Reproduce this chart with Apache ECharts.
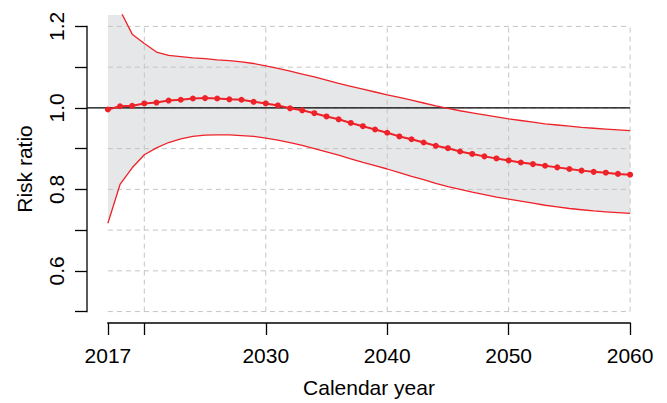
<!DOCTYPE html>
<html>
<head>
<meta charset="utf-8">
<script src="https://cdn.jsdelivr.net/npm/echarts@6/dist/echarts.min.js"></script>
<style>
html,body{margin:0;padding:0;background:#fff;}
#chart{width:667px;height:403px;}
</style>
</head>
<body>
<div id="chart"></div>
<script>
// ---- data ----
var years = [2017,2018,2019,2020,2021,2022,2023,2024,2025,2026,2027,2028,2029,2030,2031,2032,2033,2034,2035,2036,2037,2038,2039,2040,2041,2042,2043,2044,2045,2046,2047,2048,2049,2050,2051,2052,2053,2054,2055,2056,2057,2058,2059,2060];
var riskRatio = [0.996,1.004,1.005,1.011,1.013,1.018,1.020,1.023,1.024,1.023,1.021,1.020,1.015,1.011,1.006,0.999,0.994,0.987,0.979,0.972,0.963,0.955,0.947,0.939,0.930,0.923,0.915,0.907,0.901,0.893,0.887,0.881,0.876,0.871,0.866,0.862,0.858,0.854,0.850,0.846,0.843,0.841,0.838,0.836];
var upperCI = [1.390,1.240,1.181,1.158,1.137,1.129,1.126,1.123,1.121,1.118,1.116,1.113,1.109,1.103,1.097,1.090,1.083,1.076,1.068,1.060,1.053,1.046,1.039,1.032,1.026,1.019,1.012,1.005,0.999,0.993,0.988,0.983,0.978,0.973,0.969,0.965,0.961,0.958,0.955,0.952,0.950,0.948,0.946,0.944];
var lowerCI = [0.717,0.812,0.853,0.885,0.902,0.915,0.924,0.930,0.933,0.934,0.934,0.932,0.930,0.926,0.921,0.915,0.908,0.900,0.892,0.884,0.875,0.866,0.858,0.850,0.841,0.832,0.824,0.815,0.807,0.800,0.793,0.787,0.781,0.776,0.771,0.766,0.761,0.757,0.753,0.750,0.747,0.745,0.743,0.741];
var xTicks = [2017,2020,2030,2040,2050,2060];
var xLabels = [2017,2030,2040,2050,2060];
var xGrid = [2020,2030,2040,2050,2060];
var yTicks = [0.5,0.6,0.7,0.8,0.9,1.0,1.1,1.2];
var yLabels = [0.6,0.8,1.0,1.2];
var yGrid = [0.5,0.6,0.7,0.8,0.9,1.0,1.1,1.2];
var refValue = 1.0;

// ---- derived ----
var X0 = years[0], X1 = years[years.length-1];
var Y0 = yTicks[0], Y1 = yTicks[yTicks.length-1];
var XMIN = X0 - 0.04*(X1-X0), XMAX = X1 + 0.04*(X1-X0);
var YMIN = Y0 - 0.04*(Y1-Y0), YMAX = Y1 + 0.04*(Y1-Y0);
function pairs(v){ return years.map(function(y,i){ return [y, v[i]]; }); }

var RED = '#ee2229';
var FONT = '"Liberation Sans", Helvetica, Arial, sans-serif';

var chart = echarts.init(document.getElementById('chart'), null, {renderer:'svg'});
chart.setOption({
  animation: false,
  backgroundColor: '#ffffff',
  grid: {left: 87, right: 16, top: 15, bottom: 79, containLabel: false},
  xAxis: {
    type: 'value', min: XMIN, max: XMAX,
    name: 'Calendar year', nameLocation: 'middle', nameGap: 54,
    nameTextStyle: {fontFamily: FONT, fontSize: 21, color: '#000'},
    axisLine: {show: false},
    splitLine: {show: false},
    axisTick: {show: true, customValues: xTicks, length: 12, lineStyle: {color: '#000', width: 1.3}},
    axisLabel: {customValues: xLabels, margin: 22, fontFamily: FONT, fontSize: 21, color: '#000', formatter: function(v){ return String(v); }}
  },
  yAxis: {
    type: 'value', min: YMIN, max: YMAX,
    name: 'Risk ratio', nameLocation: 'middle', nameGap: 52, nameRotate: 90,
    nameTextStyle: {fontFamily: FONT, fontSize: 21, color: '#000'},
    axisLine: {show: false},
    splitLine: {show: false},
    axisTick: {show: true, customValues: yTicks, length: 12, lineStyle: {color: '#000', width: 1.3}},
    axisLabel: {customValues: yLabels, rotate: 90, margin: 20, fontFamily: FONT, fontSize: 21, color: '#000', formatter: function(v){ return v.toFixed(1); }}
  },
  series: [
    {
      type: 'custom', name: 'band', z: 1, clip: true, silent: true,
      data: [0],
      renderItem: function(params, api){
        var pts = [];
        for (var i=0;i<years.length;i++) pts.push(api.coord([years[i], upperCI[i]]));
        for (var j=years.length-1;j>=0;j--) pts.push(api.coord([years[j], lowerCI[j]]));
        return {type:'polygon', shape:{points:pts}, style:{fill:'#e6e7e8', stroke:null}};
      }
    },
    {
      type: 'custom', name: 'frame', z: 2, clip: false, silent: true,
      data: [0],
      renderItem: function(params, api){
        var ch = [];
        var dash = {stroke:'#c4c4c4', lineWidth:1, lineDash:[5,4], fill:null};
        yGrid.forEach(function(v){
          var a = api.coord([X0, v]), b = api.coord([X1, v]);
          ch.push({type:'line', shape:{x1:a[0],y1:a[1],x2:b[0],y2:b[1]}, style:dash});
        });
        xGrid.forEach(function(v){
          var a = api.coord([v, Y0]), b = api.coord([v, Y1]);
          ch.push({type:'line', shape:{x1:a[0],y1:a[1],x2:b[0],y2:b[1]}, style:dash});
        });
        // reference line
        var r1 = api.coord([XMIN, refValue]), r2 = api.coord([X1, refValue]);
        ch.push({type:'line', shape:{x1:r1[0],y1:r1[1],x2:r2[0],y2:r2[1]}, style:{stroke:'#000', lineWidth:1.4}});
        // axis lines
        var ya = api.coord([XMIN, Y0]), yb = api.coord([XMIN, Y1]);
        ch.push({type:'line', shape:{x1:ya[0],y1:ya[1]+0.65,x2:yb[0],y2:yb[1]-0.65}, style:{stroke:'#000', lineWidth:1.3}});
        var xa = api.coord([X0, YMIN]), xb = api.coord([X1, YMIN]);
        ch.push({type:'line', shape:{x1:xa[0]-0.65,y1:xa[1],x2:xb[0]+0.65,y2:xb[1]}, style:{stroke:'#000', lineWidth:1.3}});
        return {type:'group', children: ch};
      }
    },
    {
      type: 'line', name: 'upper', z: 3, data: pairs(upperCI), showSymbol: false, symbol: 'none',
      lineStyle: {color: RED, width: 1.3}, clip: true, silent: true
    },
    {
      type: 'line', name: 'lower', z: 3, data: pairs(lowerCI), showSymbol: false, symbol: 'none',
      lineStyle: {color: RED, width: 1.3}, clip: true, silent: true
    },
    {
      type: 'line', name: 'Risk ratio', z: 4, data: pairs(riskRatio),
      symbol: 'circle', symbolSize: 6, showSymbol: true,
      itemStyle: {color: RED, borderWidth: 0},
      lineStyle: {color: RED, width: 2}, clip: false, silent: true
    }
  ]
});
</script>
</body>
</html>
